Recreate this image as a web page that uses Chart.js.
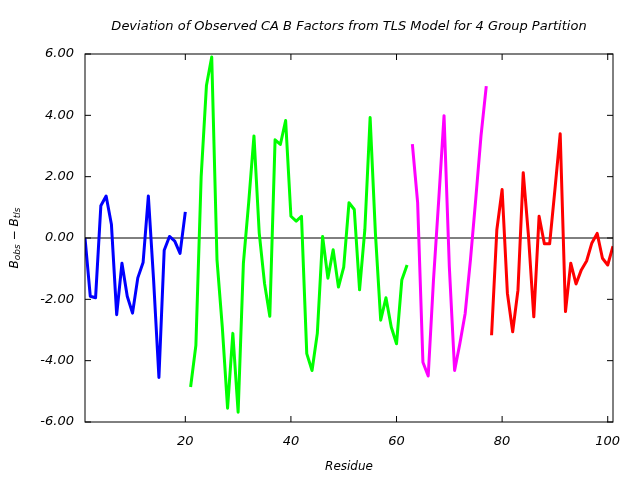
<!DOCTYPE html>
<html>
<head>
<meta charset="utf-8">
<script src="https://cdn.jsdelivr.net/npm/chart.js@4/dist/chart.umd.min.js"></script>
<style>
  html, body { margin: 0; padding: 0; background: #fff; }
  #wrap { width: 640px; height: 480px; position: relative; }
</style>
</head>
<body>
<div id="wrap"><canvas id="tlsChart"></canvas></div>
<script>
// residues and deviations (B_obs - B_tls) per TLS group
const group1Residues = [1, 2, 3, 4, 5, 6, 7, 8, 9, 10, 11, 12, 13, 14, 15, 16, 17, 18, 19, 20];
const group1Values = [0.0, -1.9, -1.95, 1.05, 1.37, 0.45, -2.5, -0.82, -1.9, -2.45,
                      -1.3, -0.8, 1.37, -1.4, -4.55, -0.4, 0.05, -0.1, -0.5, 0.85];

const group2Residues = [21, 22, 23, 24, 25, 26, 27, 28, 29, 30, 31, 32, 33, 34, 35, 36, 37, 38, 39, 40, 41,
                        42, 43, 44, 45, 46, 47, 48, 49, 50, 51, 52, 53, 54, 55, 56, 57, 58, 59, 60, 61, 62];
const group2Values = [-4.86, -3.5, 2.0, 4.97, 5.9, -0.71, -2.9, -5.55, -3.11, -5.68, -0.82,
                      1.15, 3.33, 0.16, -1.48, -2.55, 3.2, 3.05, 3.83, 0.71, 0.55,
                      0.71, -3.77, -4.32, -3.11, 0.05, -1.31, -0.38, -1.6, -0.95, 1.15,
                      0.93, -1.69, 0.27, 3.93, 0.16, -2.68, -1.95, -2.9, -3.45, -1.37, -0.88];

const group3Residues = [63, 64, 65, 66, 67, 68, 69, 70, 71, 72, 73, 74, 75, 76, 77];
const group3Values = [3.06, 1.15, -4.05, -4.5, -1.37, 1.26, 3.99, -0.93, -4.32, -3.44,
                      -2.46, -0.71, 1.26, 3.33, 4.95];

const group4Residues = [78, 79, 80, 81, 82, 83, 84, 85, 86, 87, 88, 89, 90, 91, 92, 93, 94, 95, 96, 97,
                        98, 99, 100, 101];
const group4Values = [-3.17, 0.27, 1.58, -1.8, -3.06, -1.7, 2.13, 0.05, -2.57, 0.71, -0.19, -0.19,
                      1.58, 3.4, -2.4, -0.82, -1.5, -1.04, -0.75, -0.16, 0.15, -0.66, -0.88, -0.27];

const xTickValues = [20, 40, 60, 80, 100];
const yTickValues = [-6, -4, -2, 0, 2, 4, 6];

const chartTitle = 'Deviation of Observed CA B Factors from TLS Model for 4 Group Partition';
const groupColors = ['#0000ff', '#00ff00', '#ff00ff', '#ff0000'];

const labelFont = { family: 'DejaVu Sans', size: 12, style: 'italic', weight: 'normal' };
const tickFont = { family: 'DejaVu Sans', size: 13, style: 'italic', weight: 'normal' };

function toPoints(xs, ys) {
  return xs.map((r, i) => ({ x: r, y: ys[i] }));
}

const groups = [
  [group1Residues, group1Values],
  [group2Residues, group2Values],
  [group3Residues, group3Values],
  [group4Residues, group4Values]
];

// frame, inward ticks, zero line, title over the plot and the subscripted y title
const framePlugin = {
  id: 'frame',
  beforeDatasetsDraw(chart) {
    const { ctx, chartArea: a, scales: { y } } = chart;
    const y0 = y.getPixelForValue(0);
    ctx.save();
    ctx.strokeStyle = '#000';
    ctx.lineWidth = 1;
    ctx.beginPath();
    ctx.moveTo(a.left, y0);
    ctx.lineTo(a.right, y0);
    ctx.stroke();
    ctx.restore();
  },
  afterDatasetsDraw(chart) {
    const { ctx, chartArea: a, scales: { x, y } } = chart;
    ctx.save();
    ctx.strokeStyle = '#000';
    ctx.lineWidth = 1;
    ctx.strokeRect(a.left, a.top, a.right - a.left, a.bottom - a.top);
    ctx.beginPath();
    x.ticks.forEach(t => {
      const px = x.getPixelForValue(t.value);
      ctx.moveTo(px, a.bottom); ctx.lineTo(px, a.bottom - 6);
      ctx.moveTo(px, a.top); ctx.lineTo(px, a.top + 6);
    });
    y.ticks.forEach(t => {
      const py = y.getPixelForValue(t.value);
      ctx.moveTo(a.left, py); ctx.lineTo(a.left + 6, py);
      ctx.moveTo(a.right, py); ctx.lineTo(a.right - 6, py);
    });
    ctx.stroke();

    ctx.fillStyle = '#000';
    ctx.textBaseline = 'middle';
    ctx.textAlign = 'center';
    ctx.font = 'italic 13px "DejaVu Sans"';
    ctx.fillText(chartTitle, (a.left + a.right) / 2, 27);

    // y axis title: B_obs - B_tls
    const parts = [
      ['B', 12, 0], ['obs', 9, 3], [' \u2212 ', 12, 0], ['B', 12, 0], ['tls', 9, 3]
    ];
    ctx.textAlign = 'left';
    let total = 0;
    parts.forEach(([s, size]) => {
      ctx.font = `italic ${size}px "DejaVu Sans"`;
      total += ctx.measureText(s).width;
    });
    ctx.translate(15, (a.top + a.bottom) / 2);
    ctx.rotate(-Math.PI / 2);
    let cx = -total / 2;
    parts.forEach(([s, size, dy]) => {
      ctx.font = `italic ${size}px "DejaVu Sans"`;
      ctx.fillText(s, cx, dy);
      cx += ctx.measureText(s).width;
    });
    ctx.restore();
  }
};

new Chart(document.getElementById('tlsChart'), {
  type: 'line',
  data: {
    datasets: groups.map(([xs, ys], i) => ({
      data: toPoints(xs, ys),
      borderColor: groupColors[i],
      backgroundColor: groupColors[i],
      borderWidth: 3,
      borderJoinStyle: 'round',
      pointRadius: 0,
      tension: 0,
      fill: false
    }))
  },
  options: {
    responsive: true,
    maintainAspectRatio: false,
    animation: false,
    layout: { padding: { left: 0, right: 27, top: 54, bottom: 0 } },
    plugins: {
      legend: { display: false },
      tooltip: { enabled: false },
      title: { display: false }
    },
    scales: {
      x: {
        type: 'linear',
        min: 1,
        max: 101,
        afterBuildTicks: scale => { scale.ticks = xTickValues.map(v => ({ value: v })); },
        afterFit: scale => { scale.height = 58; },
        grid: { display: false, drawTicks: false },
        border: { display: false },
        ticks: { color: '#000', font: tickFont, padding: 12, maxRotation: 0 },
        title: { display: true, text: 'Residue', color: '#000', font: labelFont, padding: { top: 4, bottom: 6 } }
      },
      y: {
        type: 'linear',
        min: -6,
        max: 6,
        afterBuildTicks: scale => { scale.ticks = yTickValues.map(v => ({ value: v })); },
        afterFit: scale => { scale.width = 85; },
        grid: { display: false, drawTicks: false },
        border: { display: false },
        ticks: { color: '#000', font: tickFont, padding: 11, callback: v => v.toFixed(2) }
      }
    }
  },
  plugins: [framePlugin]
});
</script>
</body>
</html>
